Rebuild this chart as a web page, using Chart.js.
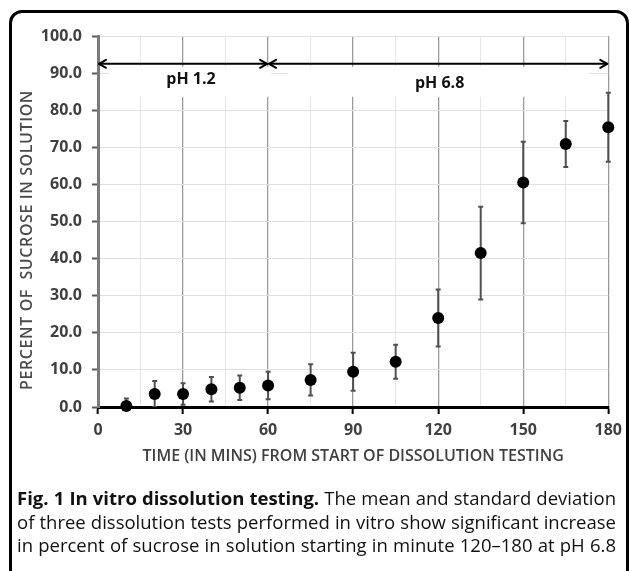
<!DOCTYPE html>
<html>
<head>
<meta charset="utf-8">
<script src="https://cdn.jsdelivr.net/npm/chart.js@4.4.1/dist/chart.umd.min.js"></script>
<style>
  html, body { margin:0; padding:0; background:#fff; width:629px; height:571px; overflow:hidden; }
  #frame { position:absolute; left:9px; top:10px; width:620px; height:640px; border:3px solid #000; border-radius:13px; box-sizing:border-box; }
  #wrap { position:absolute; left:0; top:0; width:629px; height:571px; }
  #caption { position:absolute; left:17px; top:486px; width:599px; font-family:"Open Sans", sans-serif; font-size:16px; line-height:23.5px; color:#111; }
  #caption .ln { white-space:nowrap; height:23.5px; }
  #caption b { font-weight:700; }
</style>
</head>
<body>
<div id="frame"></div>
<div id="wrap"><canvas id="c" width="629" height="571"></canvas></div>
<div id="caption">
  <div class="ln"><span><b>Fig. 1 In vitro dissolution testing.</b> The mean and standard deviation</span></div>
  <div class="ln"><span>of three dissolution tests performed in vitro show significant increase</span></div>
  <div class="ln"><span>in percent of sucrose in solution starting in minute 120–180 at pH 6.8</span></div>
</div>
<script>
// ---- data ----
const times   = [10, 20, 30, 40, 50, 60, 75, 90, 105, 120, 135, 150, 165, 180];
const meanPct = [0.3, 3.5, 3.5, 4.8, 5.2, 5.8, 7.3, 9.5, 12.2, 24.0, 41.5, 60.5, 70.9, 75.4];
const sdPct   = [2.0, 3.5, 2.9, 3.3, 3.3, 3.7, 4.2, 5.1, 4.6, 7.7, 12.5, 11.0, 6.2, 9.3];
const xTickLabels = [0, 30, 60, 90, 120, 150, 180];
const yTickLabels = [0, 10, 20, 30, 40, 50, 60, 70, 80, 90, 100];
const phaseNames = ['pH 1.2', 'pH 6.8'];
const phaseStart = [0, 60];
const phaseEnd   = [60, 180];
const xTitle = 'TIME (IN MINS) FROM START OF DISSOLUTION TESTING';
const yTitle = 'PERCENT OF  SUCROSE IN SOLUTION';

// layout constants (data units) for the phase annotation
const arrowLevel = 92.5;
const phaseLabelPos = [{x: 32.8, y: 88.2}, {x: 120.5, y: 87.3}];
const phaseBoxes = [{x0: 4, x1: 61, y0: 83.6, y1: 91.7}, {x0: 67, x1: 173, y0: 83.6, y1: 91.7}];

const overlay = {
  id: 'overlay',
  beforeDatasetsDraw(chart) {
    const {ctx, chartArea: ca, scales: {x, y}} = chart;
    ctx.save();
    ctx.fillStyle = '#fff';
    phaseBoxes.forEach(b => {
      const px0 = x.getPixelForValue(b.x0), px1 = x.getPixelForValue(b.x1);
      const py0 = y.getPixelForValue(b.y1), py1 = y.getPixelForValue(b.y0);
      ctx.fillRect(px0, py0, px1 - px0, py1 - py0);
    });
    ctx.strokeStyle = '#000';
    ctx.lineWidth = 2;
    ctx.lineCap = 'round';
    ctx.lineJoin = 'round';
    const ay = y.getPixelForValue(arrowLevel);
    phaseStart.forEach((s, i) => {
      const xa = x.getPixelForValue(s) + 1, xb = x.getPixelForValue(phaseEnd[i]) - 1;
      ctx.beginPath(); ctx.moveTo(xa, ay); ctx.lineTo(xb, ay); ctx.stroke();
      ctx.beginPath(); ctx.moveTo(xa + 7, ay - 4); ctx.lineTo(xa, ay); ctx.lineTo(xa + 7, ay + 4); ctx.stroke();
      ctx.beginPath(); ctx.moveTo(xb - 7, ay - 4); ctx.lineTo(xb, ay); ctx.lineTo(xb - 7, ay + 4); ctx.stroke();
    });
    ctx.fillStyle = '#111';
    ctx.font = 'bold 16px "Open Sans"';
    ctx.textAlign = 'center';
    ctx.textBaseline = 'middle';
    phaseNames.forEach((n, i) => {
      ctx.fillText(n, x.getPixelForValue(phaseLabelPos[i].x), y.getPixelForValue(phaseLabelPos[i].y));
    });
    ctx.beginPath();
    ctx.rect(ca.left - 10, ca.top - 10, ca.right - ca.left + 20, ca.bottom - ca.top + 10);
    ctx.clip();
    ctx.strokeStyle = '#505050';
    ctx.lineWidth = 2;
    ctx.lineCap = 'butt';
    times.forEach((t, i) => {
      const px = x.getPixelForValue(t);
      const top = y.getPixelForValue(meanPct[i] + sdPct[i]);
      const bot = y.getPixelForValue(meanPct[i] - sdPct[i]);
      ctx.beginPath();
      ctx.moveTo(px, top); ctx.lineTo(px, bot);
      ctx.moveTo(px - 2.5, top); ctx.lineTo(px + 2.5, top);
      ctx.moveTo(px - 2.5, bot); ctx.lineTo(px + 2.5, bot);
      ctx.stroke();
    });
    ctx.restore();
  },
  afterDraw(chart) {
    const {ctx} = chart;
    ctx.save();
    ctx.translate(27, 240);
    ctx.rotate(-Math.PI / 2);
    ctx.fillStyle = '#4a4a4a';
    ctx.font = '600 16px "Open Sans"';
    try { ctx.letterSpacing = '0.6px'; } catch (e) {}
    ctx.textAlign = 'center';
    ctx.textBaseline = 'middle';
    ctx.fillText(yTitle, 0, 0);
    ctx.restore();
  }
};

function build() {
  new Chart(document.getElementById('c'), {
    type: 'scatter',
    data: {
      datasets: [{
        data: times.map((t, i) => ({x: t, y: meanPct[i]})),
        pointRadius: 6,
        pointBackgroundColor: '#000',
        pointBorderColor: '#000',
        pointBorderWidth: 0,
        showLine: false,
        clip: false
      }]
    },
    options: {
      responsive: false,
      animation: false,
      events: [],
      layout: { padding: { left: 14, right: 18, top: 36, bottom: 104 } },
      plugins: { legend: { display: false }, tooltip: { enabled: false } },
      scales: {
        x: {
          type: 'linear', min: 0, max: 180,
          afterFit: s => { s.height = 60; },
          afterBuildTicks: s => {
            const t = [];
            for (let v = 0; v <= 180; v += 15) t.push({value: v});
            s.ticks = t;
          },
          ticks: {
            autoSkip: false, maxRotation: 0,
            padding: 7,
            color: '#404040',
            font: { family: 'Open Sans', size: 16, weight: 'bold' },
            callback: v => xTickLabels.includes(v) ? String(v) : ''
          },
          grid: {
            color: c => (xTickLabels.includes(c.tick && c.tick.value) ? '#9a9a9a' : '#e6e6e6'),
            lineWidth: c => (xTickLabels.includes(c.tick && c.tick.value) ? 1.3 : 1),
            tickColor: c => (xTickLabels.includes(c.tick && c.tick.value) ? '#000' : 'rgba(0,0,0,0)'),
            tickWidth: 2,
            tickLength: 7
          },
          border: { color: '#000', width: 3 },
          title: {
            display: true, text: xTitle, color: '#404040',
            font: { family: 'Open Sans', size: 16, weight: '600' },
            padding: { top: 0, bottom: 1 }
          }
        },
        y: {
          type: 'linear', min: 0, max: 100,
          afterFit: s => { s.width = 84; },
          afterBuildTicks: s => { s.ticks = yTickLabels.map(v => ({value: v})); },
          ticks: {
            padding: 10,
            color: '#404040',
            font: { family: 'Open Sans', size: 16, weight: 'bold' },
            callback: v => Number(v).toFixed(1)
          },
          grid: {
            color: '#e0e0e0', lineWidth: 1,
            tickColor: '#595959', tickWidth: 2, tickLength: 6
          },
          border: { color: '#7a7a7a', width: 3 }
        }
      }
    },
    plugins: [overlay]
  });
}

function fitCaption() {
  const W = 599;
  const lines = Array.from(document.querySelectorAll('#caption .ln'));
  const cap = document.getElementById('caption');
  let fs = 19;
  const maxW = () => Math.max(...lines.map(l => l.firstElementChild.getBoundingClientRect().width));
  cap.style.fontSize = fs + 'px';
  while (maxW() > W && fs > 10) { fs -= 0.1; cap.style.fontSize = fs + 'px'; }
  lines.forEach(ln => {
    const span = ln.firstElementChild;
    const w = span.getBoundingClientRect().width;
    const spaces = (span.textContent.match(/ /g) || []).length;
    span.style.wordSpacing = ((W - w) / spaces) + 'px';
  });
}

const ready = (document.fonts && document.fonts.ready) ? document.fonts.ready : Promise.resolve();
ready.then(() => { fitCaption(); build(); });
</script>
</body>
</html>
